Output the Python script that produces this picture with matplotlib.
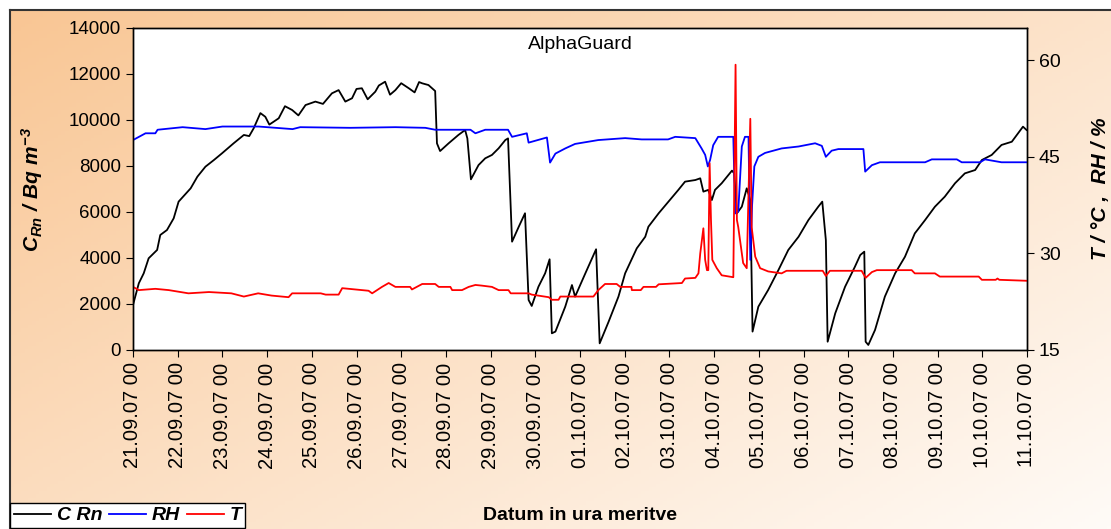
import numpy as np
import matplotlib
matplotlib.use("Agg")
import matplotlib.pyplot as plt
import matplotlib.dates as mdates
from matplotlib.lines import Line2D
from datetime import datetime, timedelta

plt.rcParams['font.family'] = ['Liberation Sans', 'DejaVu Sans']
plt.rcParams['mathtext.fontset'] = 'custom'
plt.rcParams['mathtext.it'] = 'Liberation Sans:italic:bold'
plt.rcParams['mathtext.rm'] = 'Liberation Sans:italic:bold'

START = datetime(2007, 9, 21)

# radon concentration, Bq/m3 (days since start, value)
rn_days = [0.00, 0.13, 0.24, 0.35, 0.54, 0.61, 0.76, 0.91, 1.02, 1.29, 1.44, 1.62,
           1.81, 1.99, 2.25, 2.48, 2.60, 2.70, 2.85, 2.96, 3.05, 3.26, 3.40, 3.56,
           3.70, 3.86, 4.08, 4.25, 4.45, 4.60, 4.75, 4.90, 5.00, 5.12, 5.25, 5.42,
           5.50, 5.64, 5.75, 5.87, 6.00, 6.17, 6.30, 6.40, 6.47, 6.61, 6.76, 6.80,
           6.87, 7.06, 7.28, 7.43, 7.48, 7.56, 7.73, 7.88, 8.03, 8.18, 8.33, 8.39,
           8.48, 8.63, 8.77, 8.85, 8.92, 9.07, 9.22, 9.32, 9.37, 9.45, 9.67, 9.82,
           9.89, 10.12, 10.36, 10.44, 10.64, 10.86, 11.01, 11.27, 11.46, 11.53, 11.76,
           11.98, 12.20, 12.35, 12.58, 12.69, 12.76, 12.87, 12.95, 13.02, 13.17, 13.40,
           13.45, 13.51, 13.62, 13.73, 13.81, 13.86, 13.99, 14.21, 14.44, 14.66, 14.89,
           15.11, 15.33, 15.42, 15.50, 15.54, 15.71, 15.93, 16.15, 16.27, 16.36, 16.39,
           16.45, 16.60, 16.82, 17.05, 17.27, 17.49, 17.72, 17.94, 18.16, 18.39, 18.61,
           18.84, 18.99, 19.21, 19.43, 19.66, 19.80, 19.91, 19.99]
rn_vals = [1957, 2900, 3335, 3987, 4350, 5000, 5217, 5725, 6450, 7030, 7535, 7970,
           8260, 8550, 8985, 9350, 9300, 9640, 10300, 10140, 9800, 10075, 10600, 10435,
           10200, 10650, 10800, 10700, 11160, 11300, 10800, 10945, 11350, 11380, 10900, 11230,
           11500, 11665, 11100, 11300, 11600, 11380, 11200, 11650, 11595, 11520, 11260, 8985,
           8650, 8985, 9350, 9565, 9200, 7420, 8040, 8335, 8480, 8770, 9130, 9200,
           4710, 5360, 5945, 2175, 1915, 2750, 3335, 3945, 725, 800, 1885, 2825,
           2320, 3335, 4380, 290, 1230, 2320, 3335, 4420, 4925, 5360, 5945,
           6450, 6960, 7320, 7390, 7465, 6885, 6960, 6520, 6960, 7250, 7800,
           7680, 5945, 6230, 7030, 6520, 800, 1885, 2610, 3480, 4350, 4925,
           5650, 6230, 6450, 4780, 360, 1595, 2750, 3620, 4130, 4275, 360,
           220, 870, 2320, 3335, 4055, 5070, 5650, 6230, 6665, 7250, 7680,
           7825, 8260, 8480, 8915, 9055, 9420, 9710, 9565]

# relative humidity, %
rh_days = [0.00, 0.28, 0.50, 0.55, 1.11, 1.62, 2.00, 2.81, 3.57, 3.74, 4.86, 5.87,
           6.54, 6.76, 7.55, 7.66, 7.88, 8.39, 8.48, 8.81, 8.85, 9.26, 9.33, 9.45,
           9.67, 9.89, 10.41, 11.01, 11.38, 11.97, 12.13, 12.58, 12.72, 12.80, 12.86,
           12.91, 12.98, 13.09, 13.43, 13.47, 13.54, 13.62, 13.69, 13.77, 13.81, 13.85,
           13.90, 13.99, 14.14, 14.51, 14.89, 15.26, 15.41, 15.50, 15.63, 15.78, 16.34,
           16.38, 16.53, 16.71, 17.72, 17.87, 18.43, 18.54, 18.95, 19.06, 19.43, 19.99]
rh_vals = [47.6, 48.65, 48.65, 49.2, 49.6, 49.3, 49.7, 49.7, 49.3, 49.6, 49.5, 49.6,
           49.5, 49.2, 49.2, 48.65, 49.2, 49.2, 48.1, 48.65, 47.2, 48.0, 44.1, 45.5,
           46.3, 47.0, 47.6, 47.9, 47.7, 47.7, 48.1, 47.9, 46.3, 45.3, 43.5,
           44.5, 46.8, 48.1, 48.1, 36.2, 36.5, 46.6, 48.1, 48.1, 29.0, 37.5,
           43.5, 45.0, 45.6, 46.3, 46.6, 47.1, 46.7, 45.0, 45.95, 46.2, 46.2,
           42.7, 43.7, 44.15, 44.15, 44.6, 44.6, 44.15, 44.15, 44.6, 44.15, 44.15]

# temperature, deg C
t_days = [0.00, 0.13, 0.50, 0.80, 1.24, 1.70, 2.20, 2.48, 2.80, 3.10, 3.48, 3.56,
          4.20, 4.31, 4.60, 4.68, 5.27, 5.35, 5.57, 5.72, 5.87, 6.20, 6.24, 6.47,
          6.76, 6.84, 7.10, 7.14, 7.36, 7.51, 7.66, 7.80, 8.03, 8.18, 8.40, 8.45,
          8.85, 8.92, 9.30, 9.37, 9.52, 9.56, 10.30, 10.41, 10.56, 10.82, 10.90, 11.15,
          11.16, 11.36, 11.42, 11.70, 11.76, 12.28, 12.35, 12.58, 12.65, 12.69, 12.76,
          12.80, 12.84, 12.87, 12.90, 12.93, 12.96, 13.06, 13.17, 13.43, 13.48, 13.51,
          13.54, 13.65, 13.73, 13.81, 13.84, 13.92, 14.03, 14.21, 14.51, 14.62, 15.43,
          15.50, 15.59, 16.30, 16.39, 16.53, 16.64, 17.42, 17.49, 17.94, 18.05, 18.92,
          18.99, 19.30, 19.34, 19.38, 19.99]
t_vals = [24.8, 24.3, 24.5, 24.3, 23.8, 24.0, 23.8, 23.3, 23.8, 23.45, 23.2, 23.8,
          23.8, 23.6, 23.6, 24.6, 24.2, 23.8, 24.8, 25.4, 24.8, 24.8, 24.4, 25.25,
          25.25, 24.8, 24.8, 24.3, 24.3, 24.8, 25.1, 25.0, 24.8, 24.3, 24.3, 23.8,
          23.8, 23.6, 23.2, 22.8, 22.8, 23.3, 23.3, 24.3, 25.25, 25.25, 24.8, 24.8,
          24.3, 24.3, 24.8, 24.8, 25.2, 25.4, 26.1, 26.2, 26.9, 30.0, 33.9,
          29.0, 27.4, 27.4, 44.0, 35.2, 29.0, 27.7, 26.6, 26.3, 59.3, 35.2,
          34.1, 28.5, 27.7, 50.9, 34.1, 29.5, 27.7, 27.2, 26.9, 27.3, 27.3,
          26.5, 27.3, 27.3, 26.2, 27.1, 27.4, 27.4, 26.9, 26.9, 26.4, 26.4,
          25.9, 25.9, 26.1, 25.9, 25.75]


def to_dates(days):
    return [START + timedelta(days=d) for d in days]


W, H = 1111, 529
fig = plt.figure(figsize=(W / 100, H / 100), dpi=100)

# peach gradient background with a dark frame line on the left and top
bg = fig.add_axes([10 / W, 0, 1 - 10 / W, 1 - 10 / H], zorder=-10)
u, v = np.meshgrid(np.linspace(0, 1, 300), np.linspace(0, 1, 150))
t = np.clip(0.55 * u + 0.45 * v, 0, 1)[..., None]
c0 = np.array([249, 198, 148]) / 255
c1 = np.array([255, 251, 247]) / 255
bg.imshow(c0 * (1 - t) + c1 * t, aspect='auto', extent=[0, 1, 0, 1], origin='upper')
bg.axis('off')
fig.add_artist(Line2D([10 / W, 10 / W], [0, 1 - 10 / H], color='#333333', lw=1.5))
fig.add_artist(Line2D([10 / W, 1], [1 - 10 / H, 1 - 10 / H], color='#333333', lw=1.5))

ax = fig.add_axes([133 / W, 1 - 350 / H, (1027 - 133) / W, (350 - 28) / H])
ax.set_facecolor('white')
l_rn, = ax.plot(to_dates(rn_days), rn_vals, color='black', lw=1.3)
ax.set_ylim(0, 14000)
ax.set_yticks(np.arange(0, 14001, 2000))
ax.set_xlim(START, START + timedelta(days=20))
ax.xaxis.set_major_locator(mdates.DayLocator())
ax.xaxis.set_major_formatter(mdates.DateFormatter('%d.%m.%y %H'))
ax.tick_params(axis='x', labelrotation=90, labelsize=14.5, length=5, pad=4)
ax.tick_params(axis='y', labelsize=13.5, length=5)
ax.set_ylabel(r'$C_{Rn}\ /\ Bq\ m^{-3}$', fontsize=15, labelpad=17)

ax2 = ax.twinx()
l_rh, = ax2.plot(to_dates(rh_days), rh_vals, color='#0000FF', lw=1.3)
l_t, = ax2.plot(to_dates(t_days), t_vals, color='#FF0000', lw=1.3)
ax2.set_ylim(15, 65)
ax2.set_yticks([15, 30, 45, 60])
ax2.tick_params(axis='y', labelsize=14, length=5)
ax2.set_ylabel('T / °C ,  RH / %', fontsize=15, fontweight='bold', style='italic',
               labelpad=22)

for a in (ax, ax2):
    for s in a.spines.values():
        s.set_color('black')
        s.set_linewidth(1.0)

ax.text(0.5, 0.95, 'AlphaGuard', transform=ax.transAxes, ha='center', va='center',
        fontsize=14)
fig.text(580 / W, 1 - 515 / H, 'Datum in ura meritve', ha='center', va='center',
         fontsize=14, fontweight='bold')

leg = fig.legend([l_rn, l_rh, l_t], ['C Rn', 'RH', 'T'], loc='upper left',
                 bbox_to_anchor=(10 / W, 1 - 503 / H), ncol=3, frameon=True,
                 fancybox=False, handlelength=1.9, handletextpad=0.3,
                 columnspacing=0.35, borderpad=0.2, borderaxespad=0,
                 prop={'size': 14, 'weight': 'bold', 'style': 'italic'})
leg.get_frame().set_edgecolor('black')
leg.get_frame().set_linewidth(1.0)
leg.get_frame().set_alpha(1)

fig.savefig('out.png', dpi=100)
